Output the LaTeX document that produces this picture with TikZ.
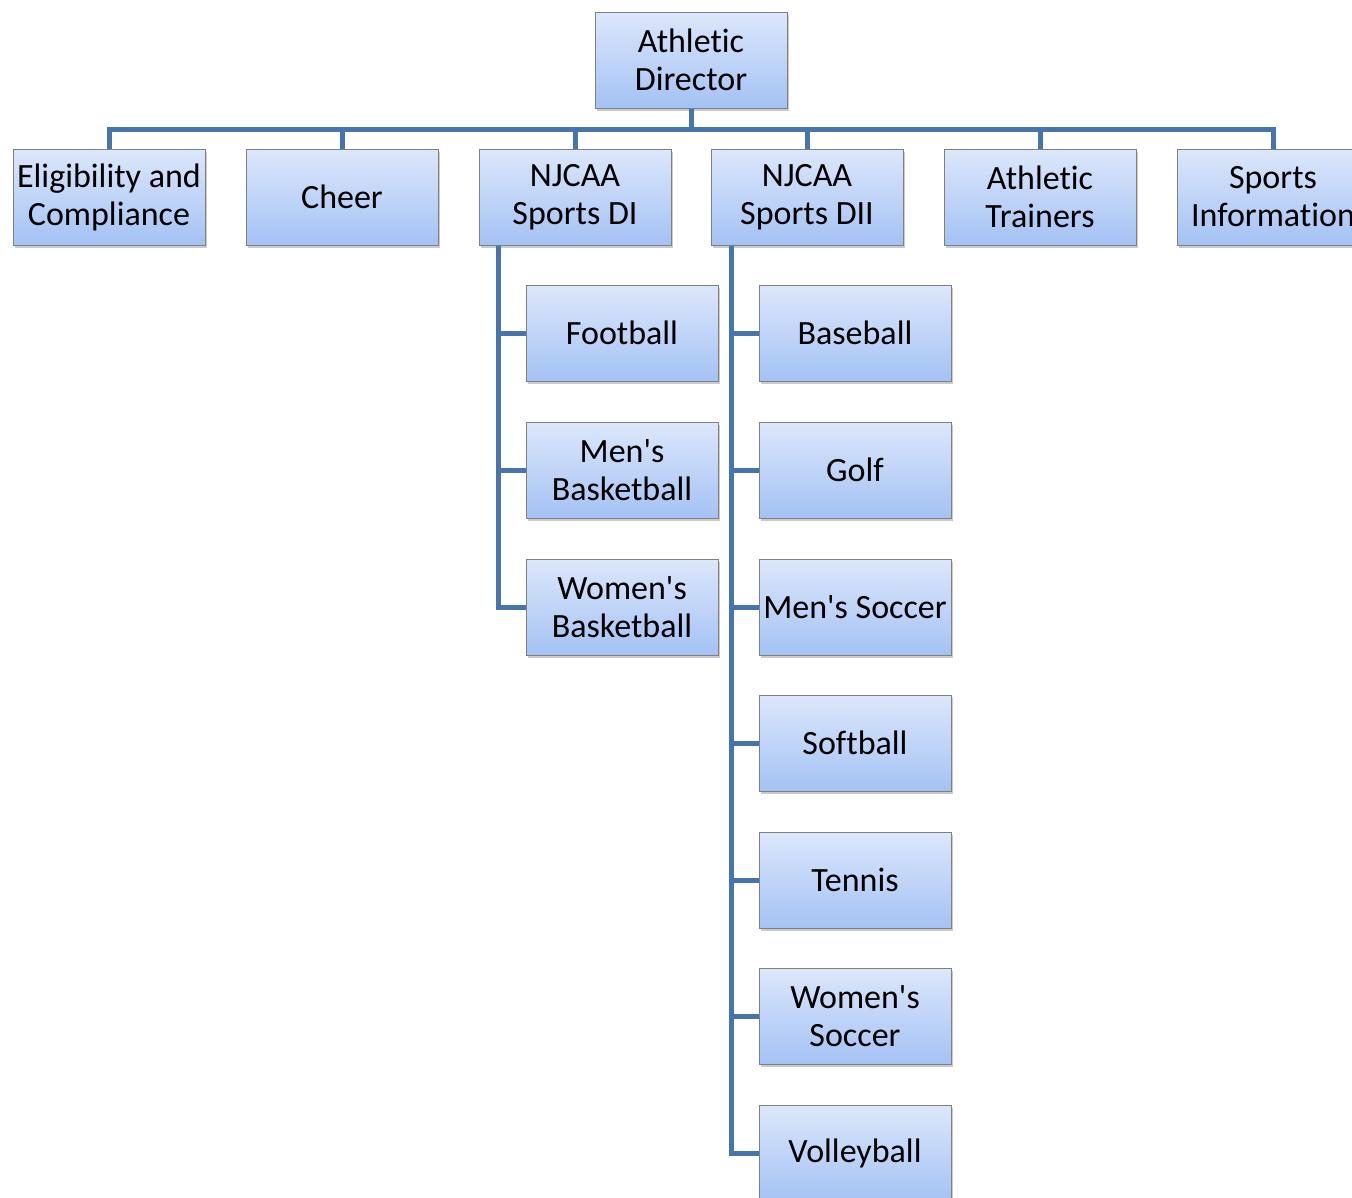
\documentclass[tikz,border=0pt]{standalone}
\usepackage{fontspec}
\setmainfont[Ligatures={NoCommon}]{Carlito}
\usetikzlibrary{shadows}
\definecolor{linec}{RGB}{70,116,172}
\definecolor{boxtop}{RGB}{220,231,251}
\definecolor{boxbot}{RGB}{164,194,244}
\definecolor{boxline}{RGB}{128,128,128}
\newcommand{\apo}{\textquotesingle}
\tikzset{
  box/.style={draw=boxline, line width=1pt, top color=boxtop, bottom color=boxbot,
    minimum width=192pt, minimum height=96pt, inner sep=0pt, align=center,
    font=\fontsize{34}{38}\selectfont,
    drop shadow={shadow xshift=2pt, shadow yshift=-3pt, opacity=0.35, fill=black!60}},
  conn/.style={draw=linec, line width=5pt}
}
\begin{document}
\begin{tikzpicture}[x=1pt,y=-1pt]
\useasboundingbox (0,0) rectangle (1352,1197);
\clip (0,0) rectangle (1352,1197);
\node[box] (ad) at (691,60) {Athletic\\Director};
\node[box] (elig) at (109,197) {Eligibility and\\Compliance};
\node[box] (cheer) at (342,197) {Cheer};
\node[box] (di) at (575,197) {NJCAA\\Sports DI};
\node[box] (dii) at (807,197) {NJCAA\\Sports DII};
\node[box] (at) at (1040,197) {Athletic\\Trainers};
\node[box] (si) at (1273,197) {Sports\\Information};
\node[box] (fb) at (622,333) {Football};
\node[box] (mb) at (622,470) {Men\apo s\\Basketball};
\node[box] (wb) at (622,607) {Women\apo s\\Basketball};
\node[box] (bb) at (855,333) {Baseball};
\node[box] (golf) at (855,470) {Golf};
\node[box] (ms) at (855,607) {Men\apo s Soccer};
\node[box] (sb) at (855,743) {Softball};
\node[box] (ten) at (855,880) {Tennis};
\node[box] (ws) at (855,1016) {Women\apo s\\Soccer};
\node[box] (vb) at (855,1153) {Volleyball};
% connectors
\foreach \c in {elig,cheer,di,dii,at,si}{
  \draw[conn] (ad.south) -- ++(0,21) -| (\c.north);
}
\coordinate (dis) at ([xshift=-77pt]di.south);
\foreach \c in {fb,mb,wb}{
  \draw[conn] (dis) |- (\c.west);
}
\coordinate (diis) at ([xshift=-76pt]dii.south);
\foreach \c in {bb,golf,ms,sb,ten,ws,vb}{
  \draw[conn] (diis) |- (\c.west);
}
\end{tikzpicture}
\end{document}
